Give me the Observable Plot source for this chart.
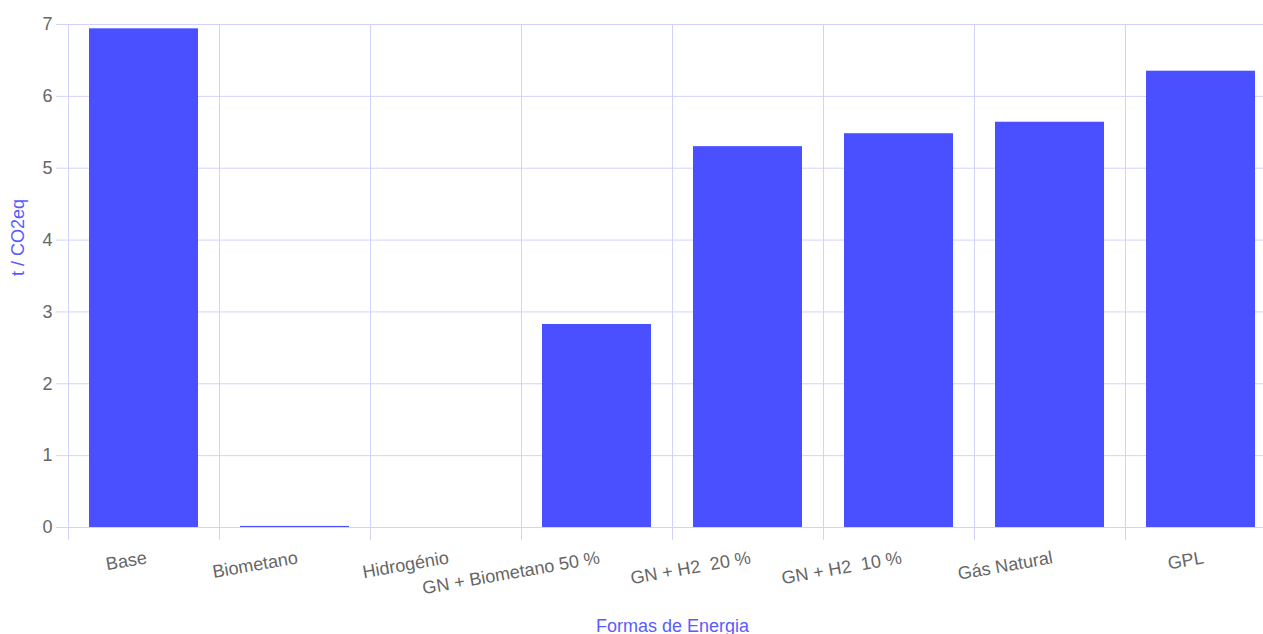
<!DOCTYPE html>
<html>
<head>
<meta charset="utf-8">
<script src="https://cdn.jsdelivr.net/npm/d3@7"></script>
<script src="https://cdn.jsdelivr.net/npm/@observablehq/plot@0.6"></script>
<style>
  html, body { margin: 0; padding: 0; overflow: hidden; background: #fff; }
  #chart svg { max-width: none !important; display: block; }
</style>
</head>
<body>
<div id="chart"></div>
<script>
const categories = ["Base", "Biometano", "Hidrogénio", "GN + Biometano 50 %", "GN + H2  20 %", "GN + H2  10 %", "Gás Natural", "GPL"];
const values = [6.94, 0.015, 0, 2.825, 5.30, 5.48, 5.64, 6.35];
const yTicks = [0, 1, 2, 3, 4, 5, 6, 7];
const xTitle = "Formas de Energia";
const yTitle = "t / CO2eq";

const data = categories.map((c, i) => ({category: c, value: values[i]}));

const grid = "#d2d3fc";
const barColor = "#4a50ff";
const titleColor = "#5a5cff";
const tickColor = "#666666";
const half = 151 / 2;

const chart = Plot.plot({
  width: 1280,
  height: 640,
  marginLeft: 68,
  marginRight: 4,
  marginTop: 24,
  marginBottom: 113,
  style: {fontFamily: "'Liberation Sans', Arial, sans-serif", fontSize: "18px", background: "#fff"},
  x: {domain: categories, padding: 0, axis: null},
  y: {domain: [0, 7], axis: null},
  marks: [
    Plot.gridY(yTicks, {stroke: grid, strokeOpacity: 1, insetLeft: -12}),
    Plot.ruleX(categories, {x: d => d, dx: -half, stroke: grid, strokeOpacity: 1, insetBottom: -13}),
    Plot.ruleX([categories[categories.length - 1]], {x: d => d, dx: half, stroke: grid, strokeOpacity: 1, insetBottom: -13}),
    Plot.barY(data, {x: "category", y: "value", fill: barColor, insetLeft: 21, insetRight: 21}),
    Plot.text(yTicks, {x: () => categories[0], y: d => d, text: d => String(d), dx: -half - 16, textAnchor: "end", fill: tickColor}),
    Plot.text(categories, {x: d => d, y: () => 0, text: d => d, dx: 2.5, dy: 30, rotate: -10, textAnchor: "end", fill: tickColor}),
    Plot.text([xTitle], {frameAnchor: "bottom", text: d => d, dy: 104, fill: titleColor}),
    Plot.text([yTitle], {frameAnchor: "left", text: d => d, dx: -50, rotate: -90, fill: titleColor})
  ]
});
document.getElementById("chart").appendChild(chart);
</script>
</body>
</html>
